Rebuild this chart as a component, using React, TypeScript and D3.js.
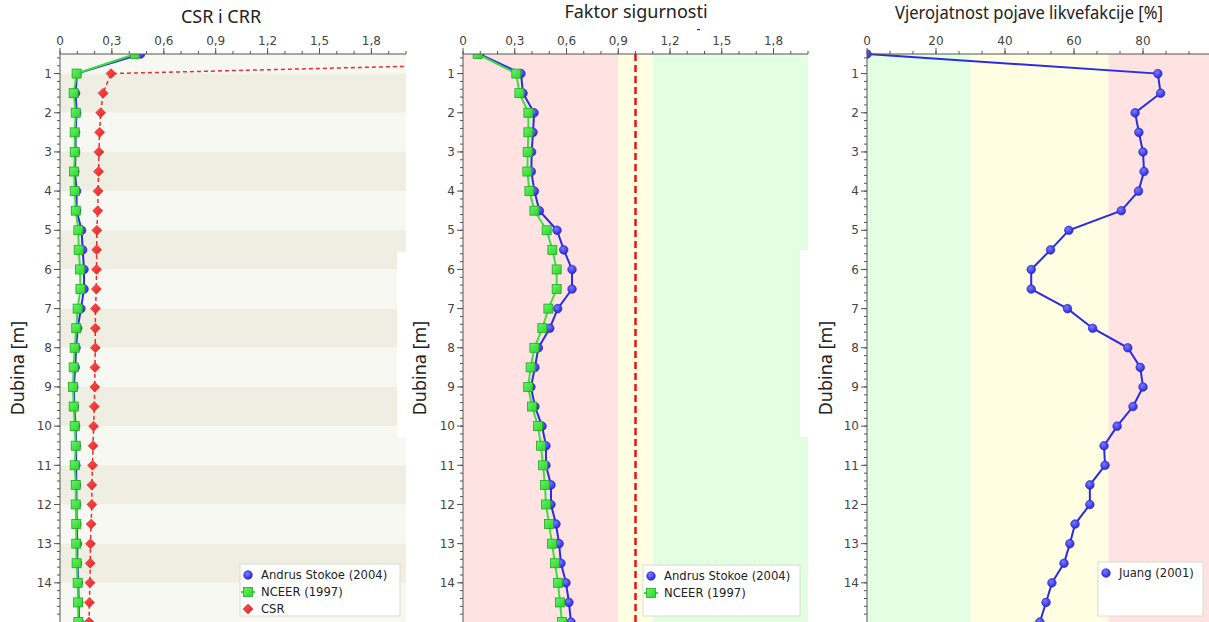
import React from "react";
import * as d3 from "d3";

// ---------- DATA ----------
const depths = [0.5, 1, 1.5, 2, 2.5, 3, 3.5, 4, 4.5, 5, 5.5, 6, 6.5, 7, 7.5, 8, 8.5, 9, 9.5, 10, 10.5, 11, 11.5, 12, 12.5, 13, 13.5, 14, 14.5, 15];

const crrAndrus = [0.466, 0.098, 0.09, 0.096, 0.09, 0.09, 0.086, 0.096, 0.096, 0.125, 0.131, 0.139, 0.139, 0.121, 0.102, 0.093, 0.088, 0.08, 0.083, 0.09, 0.094, 0.092, 0.095, 0.095, 0.097, 0.1, 0.1, 0.106, 0.108, 0.11];
const crrNceer = [0.434, 0.096, 0.079, 0.091, 0.085, 0.085, 0.081, 0.085, 0.091, 0.106, 0.108, 0.116, 0.118, 0.102, 0.094, 0.085, 0.079, 0.075, 0.079, 0.085, 0.091, 0.085, 0.091, 0.091, 0.094, 0.094, 0.096, 0.102, 0.104, 0.106];
const csr = [4.9, 0.295, 0.249, 0.235, 0.229, 0.225, 0.223, 0.22, 0.218, 0.213, 0.212, 0.211, 0.21, 0.205, 0.204, 0.204, 0.202, 0.201, 0.198, 0.194, 0.191, 0.188, 0.184, 0.184, 0.18, 0.176, 0.175, 0.173, 0.17, 0.168];

const fsAndrus = [0.095, 0.336, 0.348, 0.412, 0.406, 0.398, 0.396, 0.414, 0.443, 0.545, 0.584, 0.632, 0.632, 0.549, 0.503, 0.437, 0.417, 0.394, 0.417, 0.458, 0.481, 0.481, 0.51, 0.51, 0.539, 0.557, 0.568, 0.597, 0.614, 0.626];
const fsNceer = [0.085, 0.309, 0.327, 0.379, 0.379, 0.375, 0.373, 0.385, 0.414, 0.485, 0.518, 0.543, 0.543, 0.495, 0.46, 0.414, 0.392, 0.378, 0.4, 0.435, 0.452, 0.464, 0.475, 0.481, 0.499, 0.516, 0.533, 0.551, 0.562, 0.574];

const probJuang = [0, 84.3, 85.1, 77.7, 78.8, 80, 80.3, 78.7, 73.7, 58.5, 53.2, 47.6, 47.6, 58.1, 65.4, 75.6, 79.2, 80, 77.1, 72.5, 68.7, 69, 64.6, 64.6, 60.3, 58.8, 57.1, 53.6, 51.9, 50.1];

const xTicksRatio = [0, 0.3, 0.6, 0.9, 1.2, 1.5, 1.8];
const xTicksPct = [0, 20, 40, 60, 80];
const yTicks = [1, 2, 3, 4, 5, 6, 7, 8, 9, 10, 11, 12, 13, 14];

const titles = ["CSR i CRR", "Faktor sigurnosti", "Vjerojatnost pojave likvefakcije [%]"];
const yAxisTitle = "Dubina [m]";

// FS zones (panel 2) and probability zones (panel 3)
const fsZones = [
  { from: 0, to: 0.9, color: "#ffe2e2" },
  { from: 0.9, to: 1.1, color: "#fffee2" },
  { from: 1.1, to: 2.0, color: "#e2ffe2" },
];
const probZones = [
  { from: 0, to: 30, color: "#e2ffe2" },
  { from: 30, to: 70, color: "#fffee2" },
  { from: 70, to: 100, color: "#ffe2e2" },
];

// ---------- LAYOUT ----------
const W = 1209;
const H = 622;
const TOP = 54;
const BOTTOM = 622;

const BLUE = "#2a2ae8";
const GREEN = "#3ce03c";
const RED = "#f02a2a";

const fmt = (v: number) => String(v).replace(".", ",");

const yScale = d3.scaleLinear().domain([0.5, 15]).range([TOP, BOTTOM]);

function Circle({ x, y }: { x: number; y: number }) {
  return <circle cx={x} cy={y} r={4.3} fill="url(#gBlue)" stroke="#2020c0" strokeWidth={0.6} />;
}
function Square({ x, y }: { x: number; y: number }) {
  return <rect x={x - 4.5} y={y - 4.5} width={9} height={9} fill="url(#gGreen)" stroke="#22a822" strokeWidth={0.8} />;
}
function Diamond({ x, y }: { x: number; y: number }) {
  const s = 5;
  return <path d={`M${x},${y - s}L${x + s},${y}L${x},${y + s}L${x - s},${y}Z`} fill="url(#gRed)" stroke="#d01818" strokeWidth={0.5} />;
}

function LeftAxis({ left, labelX }: { left: number; labelX: number }) {
  const minor: number[] = [];
  for (let i = 3; i < 75; i++) minor.push(i / 5);
  return (
    <g>
      <line x1={left} x2={left} y1={TOP} y2={BOTTOM} stroke="#555" strokeWidth={1} />
      {minor.map((d) => (
        <line key={"m" + d} x1={left - 3} x2={left} y1={yScale(d)} y2={yScale(d)} stroke="#555" strokeWidth={1} />
      ))}
      {yTicks.map((d) => (
        <g key={d}>
          <line x1={left - 6} x2={left} y1={yScale(d)} y2={yScale(d)} stroke="#555" strokeWidth={1} />
          <text x={left - 8} y={yScale(d)} dy="0.35em" textAnchor="end" fontFamily="DejaVu Sans, Verdana, sans-serif" fontSize={12} fill="#444">
            {d}
          </text>
        </g>
      ))}
      <text
        transform={`translate(${labelX},${(TOP + BOTTOM) / 2 + 30}) rotate(-90)`}
        textAnchor="middle"
        dy="0.35em"
        fontFamily="Noto Sans, sans-serif"
        fontSize={18}
        fill="#222"
      >
        {yAxisTitle}
      </text>
    </g>
  );
}

function TopAxis({ x, ticks, minorStep, max, label }: { x: d3.ScaleLinear<number, number>; ticks: number[]; minorStep: number; max: number; label: (v: number) => string }) {
  const minor: number[] = [];
  for (let v = 0; v <= max + 1e-9; v += minorStep) minor.push(v);
  const [r0, r1] = x.range();
  return (
    <g>
      <line x1={r0} x2={r1} y1={TOP} y2={TOP} stroke="#555" strokeWidth={1} />
      {minor.map((v, i) => (
        <line key={"m" + i} x1={x(v)} x2={x(v)} y1={TOP - 3} y2={TOP} stroke="#555" strokeWidth={1} />
      ))}
      {ticks.map((v) => (
        <g key={v}>
          <line x1={x(v)} x2={x(v)} y1={TOP - 6} y2={TOP} stroke="#555" strokeWidth={1} />
          <text x={x(v)} y={TOP - 9} textAnchor="middle" fontFamily="DejaVu Sans, Verdana, sans-serif" fontSize={12} fill="#444">
            {label(v)}
          </text>
        </g>
      ))}
    </g>
  );
}

function Legend({ x, y, w, h, items }: { x: number; y: number; w: number; h: number; items: { name: string; marker: string }[] }) {
  return (
    <g>
      <rect x={x} y={y} width={w} height={h} fill="#fff" stroke="#dcdccb" strokeWidth={1} />
      {items.map((it, i) => {
        const cy = y + 11 + i * 17;
        const mx = x + 8;
        return (
          <g key={it.name}>
            {it.marker === "circle" && <Circle x={mx} y={cy} />}
            {it.marker === "square" && (
              <g>
                <line x1={mx - 7} x2={mx + 7} y1={cy} y2={cy} stroke={GREEN} strokeWidth={2} />
                <Square x={mx} y={cy} />
              </g>
            )}
            {it.marker === "diamond" && <Diamond x={mx} y={cy} />}
            <text x={x + 21} y={cy} dy="0.35em" fontFamily="DejaVu Sans, Verdana, sans-serif" fontSize={11.6} fill="#222">
              {it.name}
            </text>
          </g>
        );
      })}
    </g>
  );
}

export default function App() {
  const x1 = d3.scaleLinear().domain([0, 2]).range([60, 406]);
  const x2 = d3.scaleLinear().domain([0, 2]).range([463, 808]);
  const x3 = d3.scaleLinear().domain([0, 100]).range([867, 1212]);

  const mk = (xs: d3.ScaleLinear<number, number>, vals: number[]) =>
    d3.line<number>().x((v) => xs(v)).y((_, i) => yScale(depths[i]))(vals) || "";

  const bands = [0.5, 1, 2, 3, 4, 5, 6, 7, 8, 9, 10, 11, 12, 13, 14, 15];

  return (
    <svg width={W} height={H} style={{ position: "fixed", left: 0, top: 0, background: "#fff" }}>
      <defs>
        <radialGradient id="gBlue" cx="40%" cy="35%" r="70%">
          <stop offset="0%" stopColor="#7a7aff" />
          <stop offset="100%" stopColor="#2323e0" />
        </radialGradient>
        <linearGradient id="gGreen" x1="0" y1="0" x2="1" y2="1">
          <stop offset="0%" stopColor="#66f566" />
          <stop offset="100%" stopColor="#2ed42e" />
        </linearGradient>
        <linearGradient id="gRed" x1="0" y1="0" x2="1" y2="1">
          <stop offset="0%" stopColor="#ff5555" />
          <stop offset="100%" stopColor="#e81e1e" />
        </linearGradient>
        <clipPath id="c1"><rect x={60} y={TOP} width={346} height={BOTTOM - TOP} /></clipPath>
        <clipPath id="c2"><rect x={463} y={TOP} width={345} height={BOTTOM - TOP} /></clipPath>
        <clipPath id="c3"><rect x={867} y={TOP - 5} width={345} height={BOTTOM - TOP + 5} /></clipPath>
      </defs>

      {/* Titles */}
      <text x={221} y={23} textAnchor="middle" fontFamily="Noto Sans, sans-serif" fontSize={18} fill="#222">{titles[0]}</text>
      <text x={636} y={18} textAnchor="middle" fontFamily="Noto Sans, sans-serif" fontSize={18} fill="#222">{titles[1]}</text>
      <text x={1029} y={19} textAnchor="middle" fontFamily="Noto Sans, sans-serif" fontSize={18} fill="#222" textLength={268} lengthAdjust="spacingAndGlyphs">{titles[2]}</text>
      <rect x={697} y={29} width={3} height={1.2} fill="#333" />

      {/* ---------- Panel 1 ---------- */}
      <g>
        {bands.slice(0, -1).map((b, i) => (
          <rect key={b} x={60} width={346} y={yScale(b)} height={yScale(bands[i + 1]) - yScale(b)} fill={i % 2 === 0 ? "#f8f8f3" : "#efeee3"} />
        ))}
        <g clipPath="url(#c1)">
          <path d={mk(x1, csr)} fill="none" stroke={RED} strokeWidth={1.5} strokeDasharray="4,3" />
          {csr.map((v, i) => <Diamond key={i} x={x1(v)} y={yScale(depths[i])} />)}
          <path d={mk(x1, crrAndrus)} fill="none" stroke={BLUE} strokeWidth={2} />
          {crrAndrus.map((v, i) => <Circle key={i} x={x1(v)} y={yScale(depths[i])} />)}
          <path d={mk(x1, crrNceer)} fill="none" stroke={GREEN} strokeWidth={2} />
          {crrNceer.map((v, i) => <Square key={i} x={x1(v)} y={yScale(depths[i])} />)}
        </g>
        <TopAxis x={x1} ticks={xTicksRatio} minorStep={0.1} max={2} label={fmt} />
        <LeftAxis left={60} labelX={18} />
        <Legend x={240} y={564} w={160} h={52} items={[
          { name: "Andrus Stokoe (2004)", marker: "circle" },
          { name: "NCEER (1997)", marker: "square" },
          { name: "CSR", marker: "diamond" },
        ]} />
        <rect x={397} y={252} width={10} height={186} fill="#fff" />
      </g>

      {/* ---------- Panel 2 ---------- */}
      <g>
        {fsZones.map((z) => (
          <rect key={z.from} x={x2(z.from)} width={x2(z.to) - x2(z.from)} y={TOP} height={BOTTOM - TOP} fill={z.color} />
        ))}
        <line x1={x2(1)} x2={x2(1)} y1={TOP} y2={BOTTOM} stroke="#ee1111" strokeWidth={2.5} strokeDasharray="7,4" />
        <g clipPath="url(#c2)">
          <path d={mk(x2, fsAndrus)} fill="none" stroke={BLUE} strokeWidth={2} />
          {fsAndrus.map((v, i) => <Circle key={i} x={x2(v)} y={yScale(depths[i])} />)}
          <path d={mk(x2, fsNceer)} fill="none" stroke={GREEN} strokeWidth={2} />
          {fsNceer.map((v, i) => <Square key={i} x={x2(v)} y={yScale(depths[i])} />)}
        </g>
        <TopAxis x={x2} ticks={xTicksRatio} minorStep={0.1} max={2} label={fmt} />
        <LeftAxis left={463} labelX={420} />
        <Legend x={643} y={565} w={157} h={51} items={[
          { name: "Andrus Stokoe (2004)", marker: "circle" },
          { name: "NCEER (1997)", marker: "square" },
        ]} />
        <rect x={800} y={250} width={10} height={187} fill="#fff" />
      </g>

      {/* ---------- Panel 3 ---------- */}
      <g>
        {probZones.map((z) => (
          <rect key={z.from} x={x3(z.from)} width={x3(z.to) - x3(z.from)} y={TOP} height={BOTTOM - TOP} fill={z.color} />
        ))}
        <g clipPath="url(#c3)">
          <path d={mk(x3, probJuang)} fill="none" stroke={BLUE} strokeWidth={2} />
          {probJuang.map((v, i) => <Circle key={i} x={x3(v)} y={yScale(depths[i])} />)}
        </g>
        <TopAxis x={x3} ticks={xTicksPct} minorStep={20 / 3} max={100} label={(v) => String(v)} />
        <LeftAxis left={867} labelX={826} />
        <Legend x={1098} y={562} w={105} h={54} items={[{ name: "Juang (2001)", marker: "circle" }]} />
      </g>
    </svg>
  );
}
